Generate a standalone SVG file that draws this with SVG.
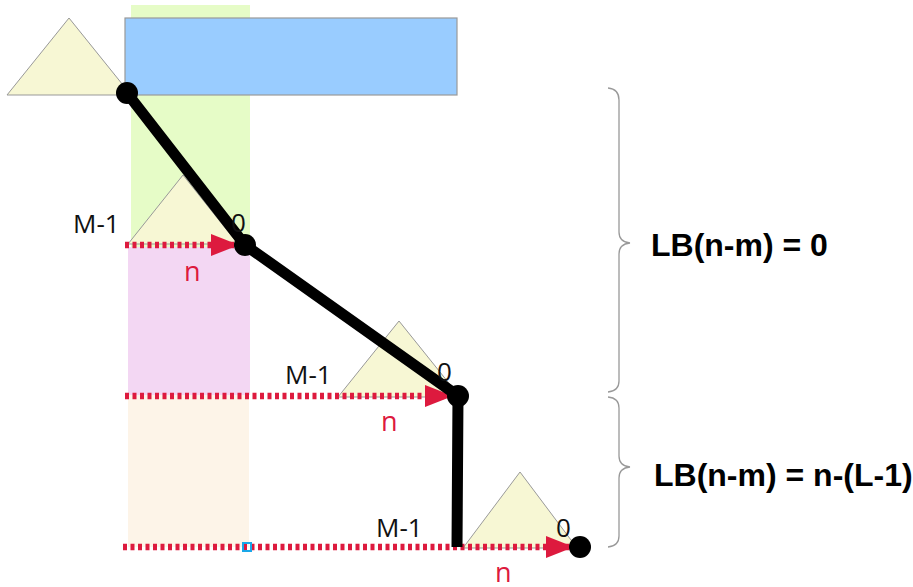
<svg xmlns="http://www.w3.org/2000/svg" width="913" height="587" viewBox="0 0 913 587">
<style>
.tri{fill:#f7f7d4;stroke:#999;stroke-width:1}
.lbl{font-family:"Open Sans","Liberation Sans",sans-serif;font-size:26px;fill:#111}
.nl{font-family:"Open Sans","Liberation Sans",sans-serif;font-size:27px;fill:#dd1a3e}
.eq{font-family:"Liberation Sans",Arial,sans-serif;font-size:32px;font-weight:bold;fill:#000}
.dot{stroke:#dd1a3e;stroke-width:6.5;stroke-dasharray:4 3.5;fill:none}
.brace{fill:none;stroke:#999;stroke-width:1.3}
</style>
<defs>
<marker id="ah" markerWidth="28" markerHeight="22" refX="27" refY="11" orient="auto" markerUnits="userSpaceOnUse">
<path d="M0,0 L28,11 L0,22 Z" fill="#dd1a3e"/>
</marker>
</defs>
<rect width="913" height="587" fill="#fff"/>
<g id="columns">
<rect x="131" y="5" width="119" height="242" fill="#e6fcc7"/>
<rect x="128" y="247" width="122" height="148" fill="#f3d7f3"/>
<rect x="128" y="395" width="121" height="152" fill="#fdf4e8"/>
</g>
<g id="tri1"><polygon class="tri" points="69,18 7,95 131,95"/></g>
<g id="block"><rect x="125" y="18" width="332" height="77" fill="#99ccff" stroke="#999" stroke-width="1.2"/></g>
<g id="tri2"><polygon class="tri" points="183,175 128,244 238,244"/></g>
<g id="tri3"><polygon class="tri" points="399,321 338,397 460,397"/></g>
<g id="tri4"><polygon class="tri" points="520,472 463,548 577,548"/></g>
<g id="connectors">
<line class="dot" x1="125" y1="245" x2="238" y2="245" marker-end="url(#ah)"/>
<line class="dot" x1="125" y1="396" x2="452" y2="396" marker-end="url(#ah)"/>
<line class="dot" x1="123" y1="547" x2="573" y2="547" marker-end="url(#ah)"/>
<polyline points="127,93 245,245 458,396 457,547" fill="none" stroke="#000" stroke-width="11" stroke-linejoin="round"/>
</g>
<g id="dots" fill="#000">
<circle cx="127" cy="93" r="11"/>
<circle cx="245" cy="245" r="11"/>
<circle cx="458" cy="396" r="11"/>
<circle cx="580" cy="547" r="11"/>
</g>
<rect x="243" y="543" width="8" height="8" fill="none" stroke="#1aa7e8" stroke-width="2"/>
<g id="labels">
<text class="lbl" x="73" y="233">M-1</text>
<text class="lbl" x="231" y="232">0</text>
<text class="nl" x="184" y="281">n</text>
<text class="lbl" x="285" y="384">M-1</text>
<text class="lbl" x="437" y="381">0</text>
<text class="nl" x="381" y="431">n</text>
<text class="lbl" x="376" y="537">M-1</text>
<text class="lbl" x="556" y="537">0</text>
<text class="nl" x="495" y="582">n</text>
</g>
<g id="brace1"><path class="brace" d="M608,88 Q619,89 619,100 L619,232 Q619,242 630,243 Q619,244 619,254 L619,381 Q619,391 608,392"/></g>
<g id="brace2"><path class="brace" d="M608,397 Q619,398 619,408 L619,456 Q619,466 630,467 Q619,468 619,478 L619,536 Q619,546 608,547"/></g>
<text class="eq" x="651" y="256">LB(n-m) = 0</text>
<text class="eq" x="654" y="486">LB(n-m) = n-(L-1)</text>
</svg>
